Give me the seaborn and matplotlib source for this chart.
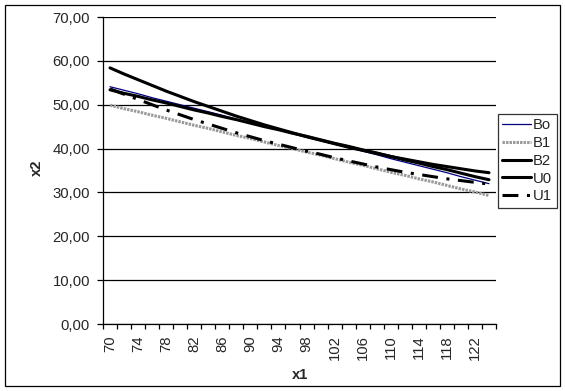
import matplotlib
matplotlib.use("Agg")
import matplotlib.pyplot as plt
from matplotlib.patches import Rectangle
from matplotlib.ticker import FuncFormatter, MultipleLocator, FixedLocator
import seaborn as sns

# category axis (step 2)
x1 = list(range(70, 125, 2))

bo = [54.1, 53.3, 52.5, 51.6, 50.8, 50.0, 49.2, 48.4, 47.6, 46.7, 45.9, 45.1, 44.3, 43.5,
      42.6, 41.8, 41.0, 40.2, 39.4, 38.6, 37.7, 36.9, 36.1, 35.3, 34.5, 33.6, 32.8, 32.0]
b1 = [49.9, 49.1, 48.4, 47.6, 46.9, 46.1, 45.3, 44.6, 43.8, 43.0, 42.3, 41.5, 40.7, 40.0,
      39.2, 38.5, 37.7, 36.9, 36.2, 35.4, 34.6, 33.9, 33.1, 32.4, 31.6, 30.8, 30.1, 29.3]
b2 = [58.4, 57.0, 55.7, 54.4, 53.1, 51.9, 50.7, 49.6, 48.5, 47.4, 46.4, 45.4, 44.5, 43.6,
      42.7, 41.9, 41.1, 40.3, 39.6, 38.9, 38.2, 37.6, 37.0, 36.4, 35.9, 35.4, 34.9, 34.5]
u0 = [53.4, 52.6, 51.9, 51.1, 50.4, 49.6, 48.8, 48.1, 47.3, 46.6, 45.8, 45.0, 44.3, 43.5,
      42.8, 42.0, 41.2, 40.5, 39.7, 39.0, 38.2, 37.4, 36.7, 35.9, 35.2, 34.4, 33.6, 32.9]
u1 = [53.6, 52.4, 51.2, 50.0, 48.8, 47.7, 46.6, 45.6, 44.6, 43.6, 42.7, 41.8, 41.0, 40.2,
      39.4, 38.7, 37.9, 37.2, 36.5, 35.8, 35.2, 34.6, 34.1, 33.6, 33.1, 32.7, 32.3, 31.9]

x_labels = list(range(70, 123, 4))
y_ticks = list(range(0, 71, 10))

sns.set_style("white")
plt.rcParams["font.family"] = ["Liberation Sans", "DejaVu Sans"]
FS = 10.7

fig = plt.figure(figsize=(5.65, 3.91), dpi=100)
ax = fig.add_axes([103 / 565, 1 - 324 / 391, 393 / 565, 307 / 391])

series = [
    ("Bo", bo, dict(color="#000080", lw=0.9, linestyle="-")),
    ("B1", b1, dict(color="#9a9a9a", lw=2.2, linestyle=(0, (0.8, 0.35)))),
    ("B2", b2, dict(color="black", lw=2.2, linestyle="-")),
    ("U0", u0, dict(color="black", lw=2.2, linestyle="-")),
    ("U1", u1, dict(color="black", lw=2.2, linestyle=(0, (5.2, 2.8, 1, 2.8)))),
]
for name, vals, kw in series:
    sns.lineplot(x=x1, y=vals, ax=ax, label=name, **kw)

ax.set_xlim(69, 125)
ax.set_ylim(0, 70)
ax.yaxis.set_major_locator(FixedLocator(y_ticks))
ax.yaxis.set_major_formatter(FuncFormatter(lambda v, p: f"{v:.2f}".replace(".", ",")))
ax.xaxis.set_major_locator(FixedLocator(x_labels))
ax.xaxis.set_minor_locator(MultipleLocator(2, offset=1))
ax.set_xticklabels([str(v) for v in x_labels], rotation=90)

ax.grid(axis="y", color="black", lw=0.9)
ax.set_axisbelow(True)
for side in ["top", "right"]:
    ax.spines[side].set_visible(False)
for side in ["left", "bottom"]:
    ax.spines[side].set_color("black")
    ax.spines[side].set_linewidth(0.9)

ax.tick_params(axis="y", which="major", direction="out", length=4.3, width=0.9,
               pad=5, labelsize=FS, left=True, color="black")
ax.tick_params(axis="x", which="major", length=0, pad=8, labelsize=FS, bottom=True)
ax.tick_params(axis="x", which="minor", direction="out", length=3.6, width=0.9,
               bottom=True, color="black")

ax.set_xlabel("")
ax.set_ylabel("")
fig.text(300 / 565, 1 - 375 / 391, "x1", ha="center", va="center",
         fontsize=FS, fontweight="bold")
fig.text(37 / 565, 1 - 168 / 391, "x2", ha="center", va="center",
         fontsize=FS, fontweight="bold", rotation=90)

leg = ax.legend(loc="upper left", bbox_to_anchor=(498 / 565, 1 - 114 / 391),
                bbox_transform=fig.transFigure, fontsize=FS, frameon=True,
                fancybox=False, edgecolor="black", handlelength=1.9,
                handletextpad=0.15, labelspacing=0.25, borderpad=0.3,
                borderaxespad=0)
leg.get_frame().set_linewidth(0.9)

fig.patches.append(Rectangle((5 / 565, 5 / 391), 555 / 565, 381 / 391,
                             transform=fig.transFigure, fill=False,
                             edgecolor="black", lw=0.9))

fig.savefig("out.png", dpi=100)
